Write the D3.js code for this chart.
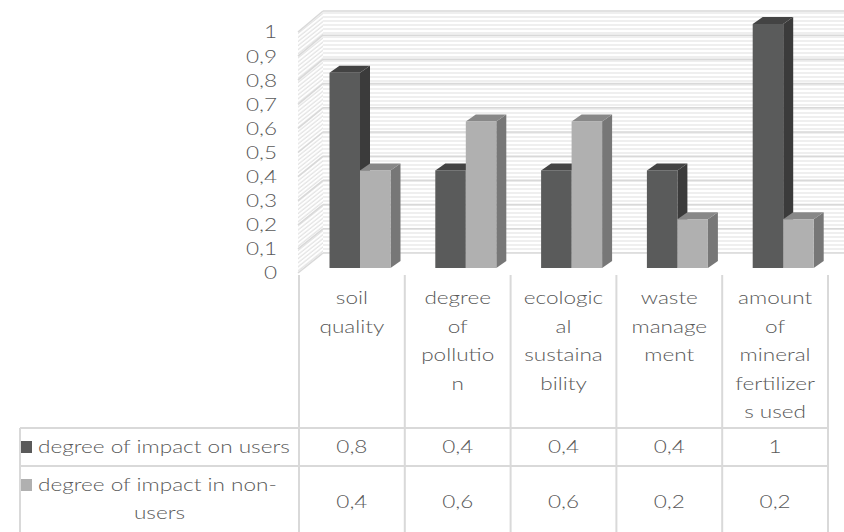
<!DOCTYPE html>
<html>
<head>
<meta charset="utf-8">
<script src="https://cdn.jsdelivr.net/npm/d3@7"></script>
<style>
  body { margin: 0; background: #fff; }
  svg { display: block; }
  text { font-family: Lato, "Open Sans", sans-serif; fill: #595959; font-size: 18.5px; font-weight: 300; }
</style>
</head>
<body>
<svg id="chart" width="844" height="532"></svg>
<script>
// ---- data ----
const categories = ["soil quality", "degree of pollution", "ecological sustainability", "waste management", "amount of mineral fertilizers used"];
const categoryLines = [
  ["soil", "quality"],
  ["degree", "of", "pollutio", "n"],
  ["ecologic", "al", "sustaina", "bility"],
  ["waste", "manage", "ment"],
  ["amount", "of", "mineral", "fertilizer", "s used"]
];
const seriesNames = ["degree of impact on users", "degree of impact in non-users"];
const seriesLines = [["degree of impact on users"], ["degree of impact in non-", "users"]];
const usersValues = [0.8, 0.4, 0.4, 0.4, 1];
const nonUsersValues = [0.4, 0.6, 0.6, 0.2, 0.2];
const tickValues = [0, 0.1, 0.2, 0.3, 0.4, 0.5, 0.6, 0.7, 0.8, 0.9, 1];
const tickLabels = ["0", "0,1", "0,2", "0,3", "0,4", "0,5", "0,6", "0,7", "0,8", "0,9", "1"];

const series = [usersValues, nonUsersValues];
const seriesColors = [
  { front: "#5a5b5b", side: "#3b3b3b", top: "#434343", key: "#5a5a5a" },
  { front: "#b0b0b0", side: "#777777", top: "#888888", key: "#b0b0b0" }
];

// decimal comma formatter for the data table
const fmt = d3.formatLocale({ decimal: ",", thousands: " ", grouping: [3], currency: ["", ""] }).format("~g");

// ---- layout ----
const svg = d3.select("#chart");
const SX = 1.22;                     // horizontal text stretch
const depth = { dx: 25, dy: -20 };   // wall depth offset
const barDepth = { dx: 10, dy: -7 }; // bar depth offset

const x = d3.scaleBand().domain(categories).range([299, 828]);
const yBar = d3.scaleLinear().domain([0, 1]).range([268, 24]);
const yFront = d3.scaleLinear().domain([0, 1]).range([273, 32]);
const yBack = d3.scaleLinear().domain([0, 1]).range([253, 11]);
const wallLeft = 298, wallBackLeft = wallLeft + depth.dx, wallRight = 844;

function label(g, str, px, py, anchor) {
  return g.append("text")
    .attr("transform", `translate(${px},${py}) scale(${SX},1)`)
    .attr("text-anchor", anchor)
    .attr("dy", "0.35em")
    .text(str);
}

// ---- wall fills ----
const defs = svg.append("defs");
const stripes = defs.append("pattern").attr("id", "stripes")
  .attr("patternUnits", "userSpaceOnUse").attr("width", 10).attr("height", 4);
stripes.append("rect").attr("width", 10).attr("height", 4).attr("fill", "#fff");
stripes.append("line").attr("x1", 0).attr("x2", 10).attr("y1", 1).attr("y2", 1)
  .attr("stroke", "#ebebeb").attr("stroke-width", 1.6);

const diag = defs.append("pattern").attr("id", "diag")
  .attr("patternUnits", "userSpaceOnUse").attr("width", 10).attr("height", 3.2)
  .attr("patternTransform", `rotate(${Math.atan2(depth.dy, depth.dx) * 180 / Math.PI})`);
diag.append("rect").attr("width", 10).attr("height", 3.2).attr("fill", "#fff");
diag.append("line").attr("x1", 0).attr("x2", 10).attr("y1", 1).attr("y2", 1)
  .attr("stroke", "#e4e4e4").attr("stroke-width", 1.3);

const walls = svg.append("g");
walls.append("rect")
  .attr("x", wallBackLeft).attr("y", yBack(1))
  .attr("width", wallRight - wallBackLeft).attr("height", yBack(0) - yBack(1))
  .attr("fill", "url(#stripes)");
walls.append("polygon")
  .attr("points", [[wallLeft, yFront(1)], [wallBackLeft, yBack(1)], [wallBackLeft, yBack(0)], [wallLeft, yFront(0)]].join(" "))
  .attr("fill", "url(#diag)");

// gridlines on back and side walls
const grid = walls.append("g").attr("stroke", "#d9d9d9").attr("stroke-width", 1.6).attr("fill", "none");
grid.selectAll("line.back").data(tickValues).join("line").attr("class", "back")
  .attr("x1", wallBackLeft).attr("x2", wallRight)
  .attr("y1", d => yBack(d)).attr("y2", d => yBack(d));
grid.selectAll("line.side").data(tickValues).join("line").attr("class", "side")
  .attr("x1", wallLeft).attr("x2", wallBackLeft)
  .attr("y1", d => yFront(d)).attr("y2", d => yBack(d));

// ---- value axis labels ----
const axis = svg.append("g");
tickValues.forEach((v, i) => label(axis, tickLabels[i], 277, yFront(v), "end"));

// ---- 3D bars ----
const barsG = svg.append("g");
const barW = 30.5;
categories.forEach((c, ci) => {
  series.forEach((vals, si) => {
    const v = vals[ci];
    const x0 = x(c) + 30.5 + si * barW, x1 = x0 + barW;
    const yT = yBar(v), yB = yBar(0);
    const col = seriesColors[si];
    const g = barsG.append("g");
    g.append("polygon")
      .attr("points", [[x1, yT], [x1 + barDepth.dx, yT + barDepth.dy], [x1 + barDepth.dx, yB + barDepth.dy], [x1, yB]].join(" "))
      .attr("fill", col.side);
    g.append("polygon")
      .attr("points", [[x0, yT], [x0 + barDepth.dx, yT + barDepth.dy], [x1 + barDepth.dx, yT + barDepth.dy], [x1, yT]].join(" "))
      .attr("fill", col.top);
    g.append("rect").attr("x", x0).attr("y", yT).attr("width", barW).attr("height", yB - yT)
      .attr("fill", col.front);
  });
});

// ---- data table ----
const table = svg.append("g");
const lineColor = "#d9d9d9";
const headTop = 275, row1 = 428, row2 = 466, tableBottom = 532, tableLeft = 20;
const colEdges = categories.map(c => x(c)).concat([x.range()[1]]);
table.selectAll("line.col").data(colEdges).join("line").attr("class", "col")
  .attr("x1", d => d).attr("x2", d => d).attr("y1", headTop).attr("y2", tableBottom)
  .attr("stroke", lineColor).attr("stroke-width", 2);
table.selectAll("line.row").data([row1, row2]).join("line").attr("class", "row")
  .attr("x1", tableLeft).attr("x2", x.range()[1]).attr("y1", d => d).attr("y2", d => d)
  .attr("stroke", lineColor).attr("stroke-width", 2);
table.append("line").attr("x1", tableLeft).attr("x2", tableLeft).attr("y1", row1).attr("y2", tableBottom)
  .attr("stroke", lineColor).attr("stroke-width", 2);

// category header cells
categories.forEach((c, ci) => {
  const cx = x(c) + x.bandwidth() / 2;
  categoryLines[ci].forEach((ln, li) => label(table, ln, cx, 298 + li * 28.4, "middle"));
});

// series rows with legend keys
const rowCenters = [447, 501.5];
const rowLineY = [[447], [485, 513]];
seriesNames.forEach((name, si) => {
  const lines = seriesLines[si];
  table.append("rect").attr("x", 21).attr("y", rowLineY[si][0] - 6).attr("width", 11).attr("height", 12)
    .attr("fill", seriesColors[si].key);
  label(table, lines[0], 38, rowLineY[si][0], "start");
  if (lines.length > 1) label(table, lines[1], (tableLeft + x.range()[0]) / 2, rowLineY[si][1], "middle");
  categories.forEach((c, ci) => {
    label(table, fmt(series[si][ci]), x(c) + x.bandwidth() / 2, rowCenters[si], "middle");
  });
});
</script>
</body>
</html>
